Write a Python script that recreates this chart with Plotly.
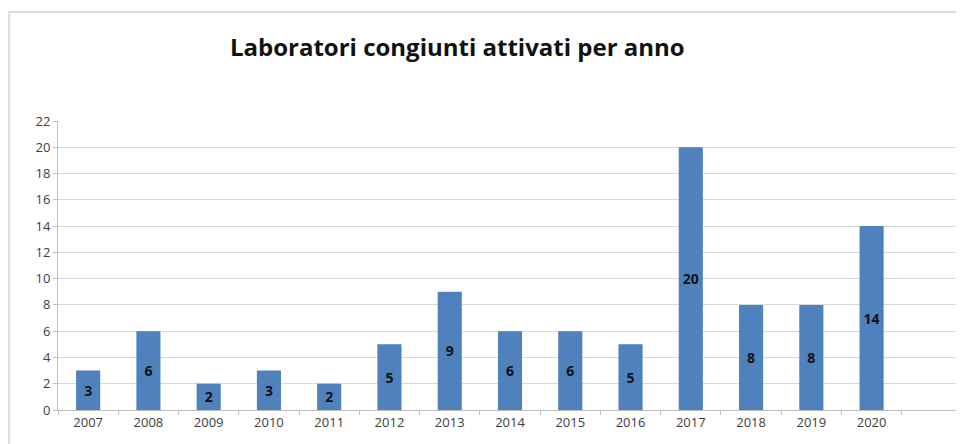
import plotly.graph_objects as go

# data
anni = ["2007", "2008", "2009", "2010", "2011", "2012", "2013",
        "2014", "2015", "2016", "2017", "2018", "2019", "2020"]
laboratori = [3, 6, 2, 3, 2, 5, 9, 6, 6, 5, 20, 8, 8, 14]
y_ticks = list(range(0, 23, 2))

fig = go.Figure()
fig.add_trace(go.Bar(
    x=anni, y=laboratori,
    marker=dict(color="#4F81BD", line=dict(width=0)),
    width=0.4,
    text=laboratori,
    textposition="inside",
    insidetextanchor="middle",
    textangle=0,
    textfont=dict(family="Open Sans", size=14, color="#111111", weight="bold"),
))

# page body adds an 8px offset, so the figure is a bit smaller than the window
fig.update_layout(
    width=956, height=436,
    margin=dict(l=50, r=2, t=113, b=34),
    paper_bgcolor="white", plot_bgcolor="white",
    showlegend=False,
    title=dict(text="<b>Laboratori congiunti attivati per anno</b>",
               x=0.470, xanchor="center", y=0.91, yanchor="middle",
               font=dict(family="Open Sans", size=24, color="#111111")),
    shapes=[dict(type="rect", xref="paper", yref="paper",
                 x0=-0.054, x1=1.05, y0=-0.3, y1=1.377,
                 line=dict(color="#dcdcdc", width=2))],
)
fig.update_xaxes(
    type="category", range=[-0.5, 14.5],
    showline=True, linecolor="#bfbfbf", linewidth=1,
    ticks="outside", tickson="boundaries", ticklen=4, tickcolor="#bfbfbf",
    showgrid=False,
    tickfont=dict(family="Open Sans", size=13, color="#404040"),
)
fig.update_yaxes(
    range=[0, 22], tickvals=y_ticks,
    showline=True, linecolor="#bfbfbf", linewidth=1,
    ticks="outside", ticklen=4, tickcolor="#bfbfbf",
    gridcolor="#d9d9d9", gridwidth=1, zeroline=False,
    tickfont=dict(family="Open Sans", size=13, color="#404040"),
)

fig.write_html("out.html")
